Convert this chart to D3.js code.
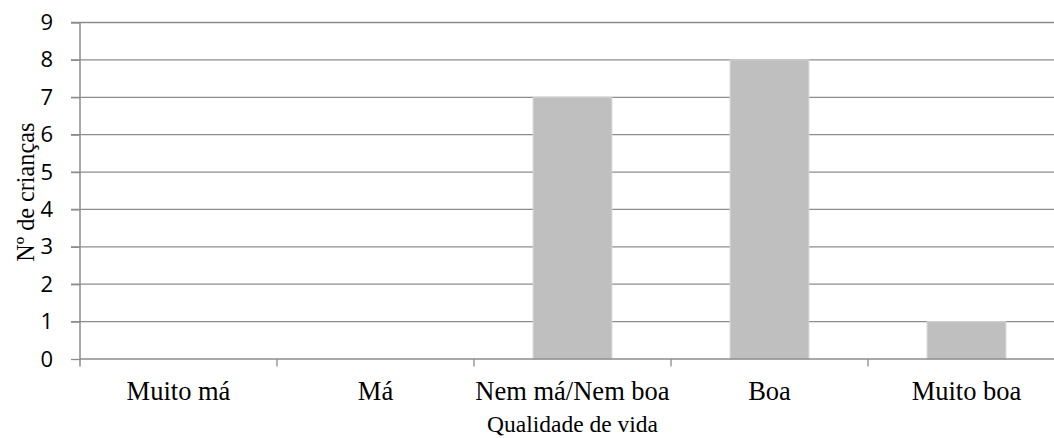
<!DOCTYPE html>
<html>
<head>
<meta charset="utf-8">
<script src="https://cdn.jsdelivr.net/npm/d3@7/dist/d3.min.js"></script>
<style>
  html, body { margin: 0; padding: 0; background: #ffffff; }
  svg { display: block; }
</style>
</head>
<body>
<svg id="chart" width="1054" height="438"></svg>
<script>
const categories = ["Muito má", "Má", "Nem má/Nem boa", "Boa", "Muito boa"];
const values = [0, 0, 7, 8, 1];
const yTicks = [0, 1, 2, 3, 4, 5, 6, 7, 8, 9];
const xTitle = "Qualidade de vida";
const yTitle = "Nº de crianças";

const svg = d3.select("#chart");
const plotLeft = 80, plotRight = 1065, plotTop = 22.5, plotBottom = 359;
const serif = "'Liberation Serif', 'Times New Roman', Tinos, serif";

const x = d3.scaleBand().domain(categories).range([plotLeft, plotRight]).paddingInner(0.6).paddingOuter(0.3);
const xb = d3.scaleBand().domain(categories).range([plotLeft, plotRight]);
const y = d3.scaleLinear().domain([0, 9]).range([plotBottom, plotTop]);

const gridColor = "#8c8c8c";

// gridlines
svg.append("g")
  .selectAll("line")
  .data(yTicks.filter(d => d > 0))
  .join("line")
  .attr("x1", plotLeft - 9).attr("x2", 1054)
  .attr("y1", d => y(d)).attr("y2", d => y(d))
  .attr("stroke", gridColor).attr("stroke-width", 1.3);

// bars
svg.append("g")
  .selectAll("rect")
  .data(categories.map((c, i) => ({ c, v: values[i] })))
  .join("rect")
  .attr("x", d => x(d.c))
  .attr("width", x.bandwidth())
  .attr("y", d => y(d.v))
  .attr("height", d => y(0) - y(d.v))
  .attr("fill", "#bfbfbf")
  .attr("stroke", "#d4d4d4")
  .attr("stroke-width", 1);

// y axis
const yAxis = d3.axisLeft(y).tickValues(yTicks).tickSize(9).tickPadding(18).tickFormat(d3.format("d"));
const gy = svg.append("g").attr("transform", `translate(${plotLeft},0)`).call(yAxis);
gy.select(".domain").remove();
gy.selectAll(".tick line").attr("stroke", gridColor).attr("stroke-width", 1.3);
gy.selectAll(".tick text")
  .attr("font-family", "'Open Sans', sans-serif")
  .attr("font-size", 22)
  .attr("fill", "#000");
svg.append("line")
  .attr("x1", plotLeft).attr("x2", plotLeft)
  .attr("y1", plotTop).attr("y2", plotBottom + 7.5)
  .attr("stroke", gridColor).attr("stroke-width", 1.5);

// x axis
svg.append("line")
  .attr("x1", plotLeft).attr("x2", 1054)
  .attr("y1", plotBottom).attr("y2", plotBottom)
  .attr("stroke", gridColor).attr("stroke-width", 1.5);
svg.append("g")
  .selectAll("line")
  .data(categories.slice(1))
  .join("line")
  .attr("x1", d => xb(d)).attr("x2", d => xb(d))
  .attr("y1", plotBottom).attr("y2", plotBottom + 7.5)
  .attr("stroke", gridColor).attr("stroke-width", 1.3);

svg.append("g")
  .selectAll("text")
  .data(categories)
  .join("text")
  .attr("x", d => xb(d) + xb.bandwidth() / 2)
  .attr("y", 400)
  .attr("text-anchor", "middle")
  .attr("font-family", serif)
  .attr("font-size", 26.5)
  .attr("fill", "#000")
  .text(d => d);

// axis titles
svg.append("text")
  .attr("x", (plotLeft + plotRight) / 2)
  .attr("y", 432)
  .attr("text-anchor", "middle")
  .attr("font-family", serif)
  .attr("font-size", 23.5)
  .attr("fill", "#000")
  .text(xTitle);

svg.append("text")
  .attr("transform", `translate(34, ${(plotTop + plotBottom) / 2 + 1.5}) rotate(-90)`)
  .attr("text-anchor", "middle")
  .attr("font-family", serif)
  .attr("font-size", 24.2)
  .attr("fill", "#000")
  .text(yTitle);
</script>
</body>
</html>
